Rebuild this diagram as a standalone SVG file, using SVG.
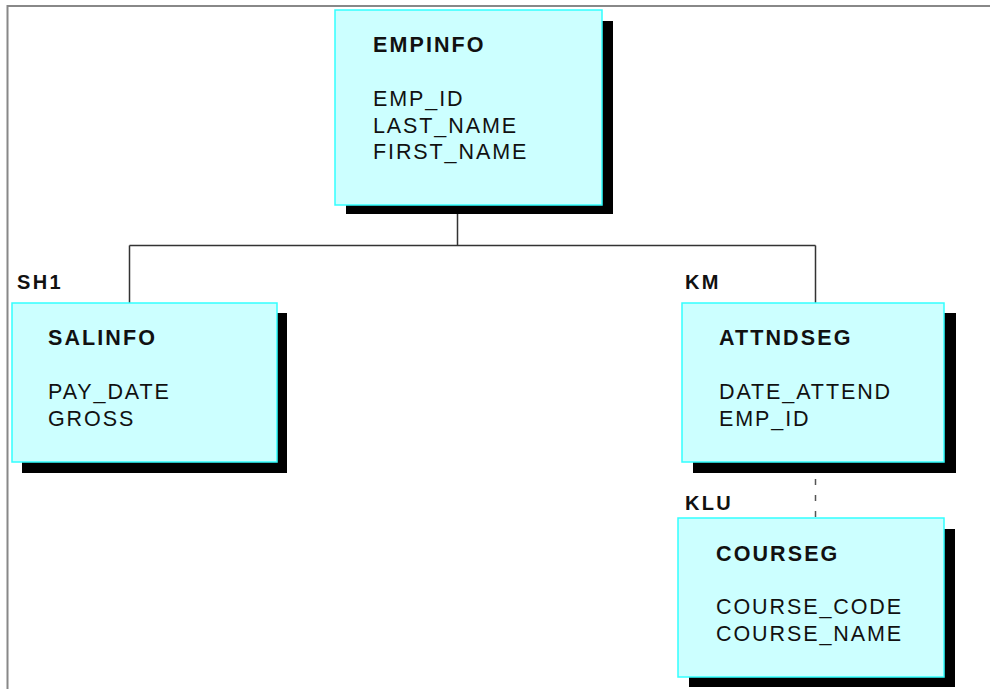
<svg xmlns="http://www.w3.org/2000/svg" width="990" height="689" viewBox="0 0 990 689">
<style>
.shadow{fill:#000}
.box{fill:#ccffff;stroke:#33ffff;stroke-width:1.5}
.title{font-family:"Liberation Sans",Arial,sans-serif;font-weight:bold;font-size:21.5px;letter-spacing:2.1px;fill:#111}
.field{font-family:"Liberation Sans",Arial,sans-serif;font-size:21.5px;letter-spacing:1.9px;fill:#111}
.lbl{font-family:"Liberation Sans",Arial,sans-serif;font-weight:bold;font-size:20px;letter-spacing:2.3px;fill:#111}
.conn{fill:none;stroke:#333;stroke-width:1.5}
.dash{fill:none;stroke:#555;stroke-width:1.5;stroke-dasharray:6 10}
</style>
<rect width="990" height="689" fill="#fff"/>
<path d="M7.5,689 V6 H990" fill="none" stroke="#888" stroke-width="2"/>
<g id="connectors">
<path class="conn" d="M457.5,205 V245.5 M129.5,245.5 H815.5 M129.5,245.5 V303 M815.5,245.5 V303"/>
<path class="dash" d="M815.5,479 V518"/>
</g>
<g id="EMPINFO">
<rect class="shadow" x="346" y="21" width="267" height="193"/>
<rect class="box" x="335" y="10" width="267" height="195"/>
<text class="title" x="373" y="52">EMPINFO</text>
<text class="field" x="373" y="106">EMP_ID</text>
<text class="field" x="373" y="132.5">LAST_NAME</text>
<text class="field" x="373" y="159">FIRST_NAME</text>
</g>
<g id="SALINFO">
<text class="lbl" x="17" y="289">SH1</text>
<rect class="shadow" x="22" y="313" width="265" height="160"/>
<rect class="box" x="12" y="303" width="265" height="159"/>
<text class="title" x="48" y="345">SALINFO</text>
<text class="field" x="48" y="399">PAY_DATE</text>
<text class="field" x="48" y="425.5">GROSS</text>
</g>
<g id="ATTNDSEG">
<text class="lbl" x="685" y="289">KM</text>
<rect class="shadow" x="693" y="313" width="263" height="160"/>
<rect class="box" x="682" y="303" width="262" height="159"/>
<text class="title" x="719" y="345">ATTNDSEG</text>
<text class="field" x="719" y="398.5">DATE_ATTEND</text>
<text class="field" x="719" y="425.5">EMP_ID</text>
</g>
<g id="COURSEG">
<text class="lbl" x="685" y="510">KLU</text>
<rect class="shadow" x="689" y="529" width="266" height="158"/>
<rect class="box" x="678" y="518" width="266" height="159"/>
<text class="title" x="716" y="561">COURSEG</text>
<text class="field" x="716" y="614">COURSE_CODE</text>
<text class="field" x="716" y="641">COURSE_NAME</text>
</g>
</svg>
